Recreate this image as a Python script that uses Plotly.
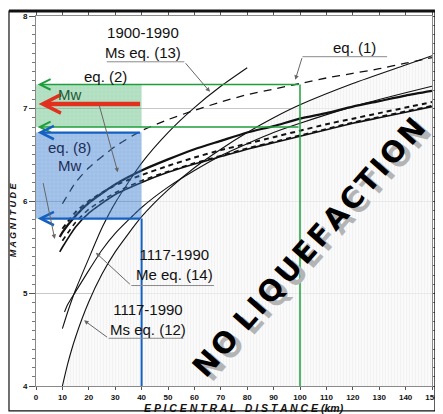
import plotly.graph_objects as go

# ---------------- data ----------------
dist_eq1 = [10, 15, 20, 30, 40, 50, 60, 70, 80, 90, 100, 110, 120, 130, 140, 150]
mag_eq1 = [5.97, 6.20, 6.36, 6.59, 6.76, 6.88, 6.98, 7.07, 7.15, 7.21, 7.27, 7.33, 7.38, 7.43, 7.49, 7.55]

dist_solid_a = [9, 10, 15, 20, 30, 40, 50, 60, 70, 80, 90, 100, 110, 120, 130, 140, 150]
mag_solid_a = [5.61, 5.66, 5.84, 5.98, 6.18, 6.33, 6.45, 6.56, 6.65, 6.74, 6.81, 6.89, 6.95, 7.02, 7.08, 7.14, 7.19]

dist_solid_b = [9, 10, 15, 20, 30, 40, 50, 60, 70, 80, 90, 100, 110, 120, 130, 140, 150]
mag_solid_b = [5.45, 5.50, 5.72, 5.87, 6.07, 6.20, 6.31, 6.40, 6.48, 6.56, 6.63, 6.70, 6.77, 6.84, 6.90, 6.96, 7.02]

dist_dash_a = [10, 15, 20, 30, 40, 50, 60, 70, 80, 90, 100, 110, 120, 130, 140, 150]
mag_dash_a = [5.70, 5.88, 6.00, 6.17, 6.28, 6.38, 6.47, 6.55, 6.62, 6.69, 6.76, 6.83, 6.89, 6.95, 7.01, 7.07]

dist_dash_b = [10, 15, 20, 30, 40, 50, 60, 70, 80, 90, 100, 110, 120, 130, 140, 150]
mag_dash_b = [5.57, 5.77, 5.91, 6.09, 6.22, 6.32, 6.41, 6.49, 6.57, 6.64, 6.71, 6.78, 6.85, 6.91, 6.97, 7.03]

dist_eq12 = [10, 12, 15, 20, 25, 30, 40, 50, 60, 70, 80, 90, 100, 120, 140, 150]
mag_eq12 = [4.00, 4.24, 4.53, 4.91, 5.21, 5.45, 5.83, 6.12, 6.36, 6.56, 6.74, 6.90, 7.04, 7.27, 7.47, 7.57]

dist_eq13 = [10, 12, 15, 20, 25, 30, 40, 50, 60, 70, 80]
mag_eq13 = [4.62, 4.80, 5.04, 5.38, 5.71, 5.98, 6.41, 6.74, 7.01, 7.24, 7.44]

dist_eq14 = [10.8, 12, 15, 20, 25, 30, 40, 50, 60, 70, 80, 90, 100, 120, 140, 150]
mag_eq14 = [4.80, 4.88, 5.02, 5.25, 5.47, 5.65, 5.93, 6.15, 6.33, 6.49, 6.62, 6.74, 6.84, 7.02, 7.17, 7.24]

box_dist = [0, 40]          # shaded boxes: epicentral distance span
green_band = [6.80, 7.26]   # Mw band (eq. 2)
blue_band = [5.81, 6.74]    # Mw band (eq. 8)
green_limit_dist = 100
red_mag = 7.05

x_ticks = list(range(0, 151, 10))
y_ticks = [4, 5, 6, 7, 8]

LABEL_FONT = "Liberation Sans, Arial, sans-serif"

fig = go.Figure()

# hatched "no liquefaction" region below the envelope
fig.add_trace(go.Scatter(
    x=dist_eq12 + [dist_eq12[-1], dist_eq12[0]],
    y=mag_eq12 + [4, 4],
    fill="toself", mode="none",
    fillcolor="rgba(0,0,0,0)",
    fillpattern=dict(shape="|", fgcolor="#e0e0e0", bgcolor="rgba(248,248,248,0.7)",
                     size=3, solidity=0.2),
    hoverinfo="skip", showlegend=False))

def line(x, y, width, dash="solid", color="#111"):
    fig.add_trace(go.Scatter(x=x, y=y, mode="lines",
                             line=dict(color=color, width=width, dash=dash, shape="spline", smoothing=0.6),
                             hoverinfo="skip", showlegend=False))

line(dist_eq12, mag_eq12, 1.1)
line(dist_eq13, mag_eq13, 1.1)
line(dist_eq14, mag_eq14, 1.1)
line(dist_eq1, mag_eq1, 1.3, "8px,6px")
line(dist_solid_a, mag_solid_a, 2.2)
line(dist_solid_b, mag_solid_b, 1.6)
line(dist_dash_a, mag_dash_a, 2.0, "5px,4px")
line(dist_dash_b, mag_dash_b, 1.6, "5px,4px")

# translucent textured boxes on top of the curves
def box(band, bg, fg):
    fig.add_trace(go.Scatter(
        x=[box_dist[0], box_dist[1], box_dist[1], box_dist[0], box_dist[0]],
        y=[band[0], band[0], band[1], band[1], band[0]],
        fill="toself", mode="none", fillcolor=bg,
        fillpattern=dict(shape="+", fgcolor=fg, bgcolor=bg, size=4, solidity=0.25),
        hoverinfo="skip", showlegend=False))

box(green_band, "rgba(80,185,115,0.45)", "rgba(255,255,255,0.35)")
box(blue_band, "rgba(40,110,205,0.45)", "rgba(255,255,255,0.35)")

shapes = []
# green & blue guide lines
shapes.append(dict(type="line", xref="x", yref="y", x0=green_limit_dist, x1=green_limit_dist,
                   y0=green_band[1], y1=4, line=dict(color="#1f9e3c", width=1.5)))
shapes.append(dict(type="line", xref="x", yref="y", x0=box_dist[1], x1=box_dist[1],
                   y0=blue_band[0], y1=4, line=dict(color="#1461c2", width=2)))
# leader underlines
for x0, x1, y in [(26.8, 56.2, 7.505), (100.9, 133.0, 7.56), (36.1, 67.4, 5.086), (27.5, 55.8, 4.516)]:
    shapes.append(dict(type="line", xref="x", yref="y", x0=x0, x1=x1, y0=y, y1=y,
                       line=dict(color="#8a8a8a", width=1)))
# outer frame
shapes.append(dict(type="rect", xref="paper", yref="paper", x0=-0.0682, x1=1.0074, y0=-0.0672, y1=1.0134,
                   line=dict(color="#111", width=1.2), layer="above"))
shapes.append(dict(type="line", xref="paper", yref="paper", x0=-0.0682, x1=1.0074, y0=1.0134, y1=1.0134,
                   line=dict(color="#111", width=3), layer="above"))

anns = []
def arrow(x, y, ax, ay, color, width, head, size=1.0):
    anns.append(dict(x=x, y=y, ax=ax, ay=ay, xref="x", yref="y", axref="x", ayref="y", text="",
                     showarrow=True, arrowhead=head, arrowsize=size, arrowwidth=width,
                     arrowcolor=color, standoff=0, startstandoff=0))

arrow(0.6, green_band[1], green_limit_dist, green_band[1], "#1f9e3c", 1.5, 5, 1.4)
arrow(0.6, green_band[0], green_limit_dist, green_band[0], "#1f9e3c", 1.5, 5, 1.4)
arrow(0.6, blue_band[1], box_dist[1], blue_band[1], "#1461c2", 2.2, 5, 1.2)
arrow(0.6, blue_band[0], box_dist[1], blue_band[0], "#1461c2", 2.2, 5, 1.2)
arrow(1.0, red_mag, box_dist[1], red_mag, "#e2301f", 4.5, 5, 0.8)

# leaders
arrow(65.9, 7.18, 56.2, 7.505, "#666", 1, 2, 0.9)
arrow(98.2, 7.31, 100.9, 7.56, "#666", 1, 2, 0.9)
arrow(22.7, 5.44, 36.1, 5.086, "#666", 1, 2, 0.9)
arrow(18.2, 4.71, 27.5, 4.516, "#666", 1, 2, 0.9)
arrow(31.0, 6.31, 23.8, 7.05, "#666", 1, 2, 0.9)
arrow(7.1, 5.59, 2.6, 6.21, "#666", 1, 2, 0.9)

def label(x, y, text, color="#111", size=15):
    anns.append(dict(x=x, y=y, xref="x", yref="y", text=text, showarrow=False,
                     xanchor="center", yanchor="middle",
                     font=dict(family=LABEL_FONT, size=size, color=color), align="center"))

label(40.6, 7.71, "1900-1990<br>Ms eq. (13)")
label(120.5, 7.66, "eq. (1)")
label(26.2, 7.35, "eq. (2)")
label(12.7, 7.15, "Mw", "#1d5a33")
label(12.5, 6.58, "eq. (8)", "#1c2f57")
label(12.6, 6.38, "Mw", "#1c2f57")
label(52.5, 5.31, "1117-1990<br>Me eq. (14)")
label(42.4, 4.715, "1117-1990<br>Ms eq. (12)")

# NO LIQUEFACTION with shadow (hair spaces widen the letter spacing)
hs = "\u200a"
no_liq = hs.join("NO") + " " + hs.join("LIQUEFACTION")
for col, xs, ys in [("#b4b4b4", 6, -4), ("#000", 0, 0)]:
    anns.append(dict(x=103.5, y=5.5, xref="x", yref="y", text=no_liq, showarrow=False,
                     textangle=-48.5, xshift=xs, yshift=ys, xanchor="center", yanchor="middle",
                     font=dict(family="DejaVu Sans", size=29, color=col, weight="bold")))

# axis titles
anns.append(dict(x=0.526, y=-0.0605, xref="paper", yref="paper", showarrow=False,
                 xanchor="center", yanchor="middle",
                 text="E P I C E N T R A L   D I S T A N C E (km)",
                 font=dict(family=LABEL_FONT, size=10.5, color="#111", weight="bold", style="italic")))
anns.append(dict(x=-0.0596, y=0.449, xref="paper", yref="paper", showarrow=False, textangle=-90,
                 xanchor="center", yanchor="middle",
                 text="M A G N I T U D E",
                 font=dict(family=LABEL_FONT, size=9, color="#111", weight="bold", style="italic")))

tickfont = dict(family=LABEL_FONT, size=8, color="#111", weight="bold")
# page body has an 8px margin: figure is 435x406 so that the plot area lands at x 36-439, y 14-386
fig.update_layout(
    width=435, height=406,
    margin=dict(l=28, r=4, t=6, b=28),
    paper_bgcolor="white", plot_bgcolor="white",
    shapes=shapes, annotations=anns,
    xaxis=dict(range=[0, 150], tickvals=x_ticks, ticktext=[str(v) for v in x_ticks],
               ticks="outside", ticklen=3, tickcolor="#555", tickfont=tickfont, ticklabelstandoff=0,
               showline=True, linecolor="#8a8a8a", linewidth=1, mirror="ticks",
               showgrid=False, zeroline=False, fixedrange=True),
    yaxis=dict(range=[4, 8], tickvals=y_ticks, ticktext=[str(v) for v in y_ticks],
               ticks="outside", ticklen=6, tickcolor="#555", tickfont=tickfont,
               minor=dict(dtick=0.1, ticklen=3, ticks="outside", tickcolor="#777"),
               showline=True, linecolor="#8a8a8a", linewidth=1, mirror="ticks",
               showgrid=True, gridcolor="#c8c8c8", gridwidth=1, zeroline=False, fixedrange=True),
)

fig.write_html("out.html")
